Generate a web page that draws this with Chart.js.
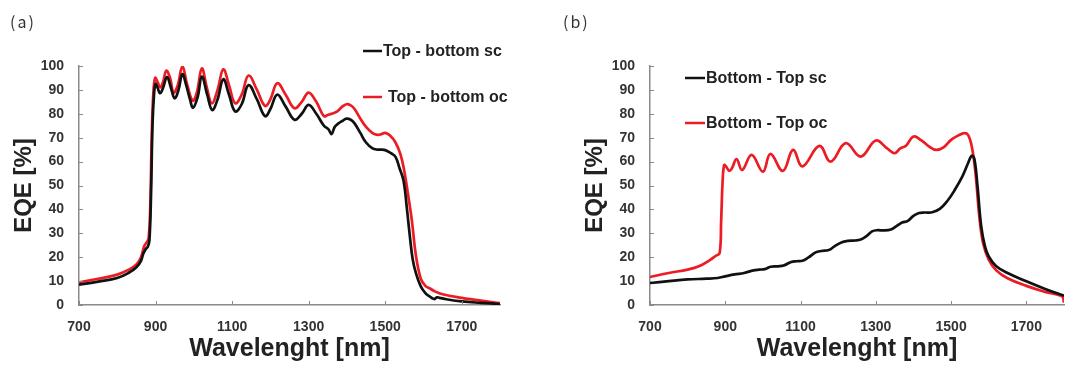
<!DOCTYPE html>
<html>
<head>
<meta charset="utf-8">
<script src="https://cdn.jsdelivr.net/npm/chart.js@4.4.1/dist/chart.umd.min.js"></script>
<style>
  html, body { margin: 0; padding: 0; background: #fff; }
  #wrap { position: relative; width: 1080px; height: 380px; overflow: hidden; }
  .panel { position: absolute; top: 0; width: 540px; height: 380px; }
  .tag { position: absolute; top: 9px; font: 16px "Noto Sans CJK SC", "DejaVu Sans", sans-serif; color: #333; letter-spacing: 2px; }
</style>
</head>
<body>
<div id="wrap">
  <div class="panel" style="left:0"><canvas id="eqe-a" width="540" height="380"></canvas></div>
  <div class="panel" style="left:540px"><canvas id="eqe-b" width="540" height="380"></canvas></div>
  <div class="tag" style="left:10px">(a)</div>
  <div class="tag" style="left:563px">(b)</div>
</div>
<script>
// Wavelength axis + tick labels
const X_TICKS = [700, 900, 1100, 1300, 1500, 1700];
const Y_TICKS = [0, 10, 20, 30, 40, 50, 60, 70, 80, 90, 100];

// (a) Top - bottom, short circuit
const A_SC_NM = [700, 750, 800, 830, 850, 862, 868, 875, 880, 884, 888, 892, 896, 900, 905, 912, 920, 930, 940, 950,
  960, 970, 980, 990, 998, 1010, 1021, 1035, 1048, 1062, 1077, 1092, 1108, 1125, 1143, 1165, 1186, 1200, 1218, 1240,
  1263, 1282, 1300, 1320, 1340, 1352, 1360, 1368, 1378, 1388, 1399, 1410, 1420, 1435, 1450, 1467, 1480, 1490, 1500, 1515,
  1527, 1538, 1548, 1557, 1565, 1572, 1580, 1593, 1605, 1616, 1628, 1635, 1642, 1660, 1700, 1750, 1800];
const A_SC_EQE = [8.5, 9.8, 11.3, 13.5, 15.8, 18.5, 21.5, 23.5, 24.5, 27, 45, 75, 88, 92.5, 91, 88.6, 91, 95.5, 91, 86.5,
  90, 96.6, 92, 86, 82.5, 87, 95.6, 88, 81.6, 86, 94.5, 88, 81, 84, 92, 86, 79, 82, 88, 83,
  77.5, 80, 83.7, 80, 75, 73.5, 71.5, 74.5, 76, 77, 78, 77.5, 76, 72, 68, 65.5, 65, 65, 64.8, 63.5,
  62, 57, 52, 40, 28, 19, 13.5, 7.8, 5, 3.6, 2.5, 3.2, 3, 2.4, 1.5, 0.9, 0.4];

// (a) Top - bottom, open circuit
const A_OC_NM = [700, 750, 800, 830, 850, 862, 870, 878, 882, 886, 890, 894, 899, 906, 912, 920, 928, 938, 947, 958,
  970, 983, 997, 1008, 1021, 1034, 1047, 1062, 1077, 1092, 1108, 1125, 1143, 1165, 1186, 1200, 1218, 1240, 1263, 1282,
  1300, 1320, 1340, 1350, 1360, 1375, 1388, 1399, 1410, 1420, 1435, 1450, 1467, 1480, 1490, 1500, 1512, 1527, 1540, 1550,
  1560, 1570, 1580, 1593, 1605, 1616, 1630, 1650, 1700, 1750, 1800];
const A_OC_EQE = [9.5, 11, 12.7, 14.8, 17, 20, 24.5, 26.5, 28, 40, 70, 88, 95, 93, 91, 93.5, 98, 95, 88.8, 92,
  99.7, 92, 85.5, 89, 99, 91, 84.4, 90, 98.6, 92, 84.4, 88, 96, 90, 83.3, 86, 92.8, 88, 82.3, 85,
  88.9, 85, 79, 79.5, 80, 81, 83, 84, 83.5, 82, 78, 74.5, 71.9, 71.2, 71.5, 72, 71, 68, 63, 56,
  46, 35, 21, 11, 8, 7, 5.7, 4.5, 3, 1.8, 0.8];

// (b) Bottom - Top, short circuit
const B_SC_NM = [700, 750, 800, 850, 880, 900, 925, 950, 975, 990, 1005, 1020, 1040, 1055, 1075, 1090, 1105, 1120, 1140, 1155,
  1175, 1190, 1210, 1225, 1245, 1260, 1275, 1290, 1305, 1320, 1340, 1355, 1370, 1385, 1400, 1415, 1430, 1450, 1470, 1490,
  1510, 1530, 1545, 1555, 1562, 1570, 1580, 1590, 1600, 1620, 1650, 1700, 1750, 1800];
const B_SC_EQE = [9.2, 10, 10.7, 11, 11.3, 12, 12.8, 13.4, 14.5, 14.8, 15, 16, 16.2, 16.5, 18, 18.3, 18.5, 19.8, 22, 22.6,
  23, 24.5, 26.3, 26.8, 27, 27.4, 28.8, 30.8, 31.3, 31.2, 31.6, 33, 34.5, 35.2, 37.3, 38.5, 38.7, 38.8, 40.2, 43.5,
  48.2, 53.8, 59.3, 62.5, 61, 50, 33, 24.5, 20.3, 16.2, 13.4, 9.9, 6.7, 3.9];

// (b) Bottom - Top, open circuit
const B_OC_NM = [700, 750, 800, 830, 860, 875, 885, 889, 893, 897, 902, 910, 917, 930, 945, 970, 1000, 1020, 1053, 1080,
  1105, 1150, 1180, 1220, 1260, 1300, 1330, 1350, 1365, 1380, 1400, 1420, 1440, 1460, 1480, 1500, 1520, 1535, 1545, 1555,
  1565, 1575, 1585, 1600, 1620, 1650, 1700, 1750, 1795, 1800];
const B_OC_EQE = [11.7, 13.4, 14.8, 16.2, 18.9, 20.6, 21.7, 35, 52, 58.6, 58, 56.2, 57, 61, 56.5, 62.8, 55.8, 63.2, 56.1, 64.9,
  58, 66.6, 60, 67.7, 62.1, 68.8, 65.5, 63.5, 65.5, 66.6, 70.5, 69, 66.5, 64.9, 66, 69.1, 71, 71.9, 71.2, 66.3,
  55, 37, 25.9, 19, 14.5, 11.2, 8, 5.5, 3.6, 1];

const BLACK = '#111111';
const RED = '#ec1c24';
const AXIS_GREY = '#8a8a8a';
const FONT = '"Liberation Sans", Arial, sans-serif';

function zip(xs, ys) {
  return xs.map((x, i) => ({ x, y: ys[i] }));
}

// small tick marks pointing into the plot, like the original
const innerTicks = {
  id: 'innerTicks',
  afterDraw(chart) {
    const { ctx, chartArea, scales } = chart;
    ctx.save();
    ctx.strokeStyle = AXIS_GREY;
    ctx.lineWidth = 1;
    X_TICKS.forEach(v => {
      const px = Math.round(scales.x.getPixelForValue(v)) + 0.5;
      ctx.beginPath();
      ctx.moveTo(px, chartArea.bottom);
      ctx.lineTo(px, chartArea.bottom - 4);
      ctx.stroke();
    });
    Y_TICKS.forEach(v => {
      const py = Math.round(scales.y.getPixelForValue(v)) + 0.5;
      ctx.beginPath();
      ctx.moveTo(chartArea.left, py);
      ctx.lineTo(chartArea.left + 4, py);
      ctx.stroke();
    });
    ctx.restore();
  }
};

// line + label legend placed by hand (top right in a, inside plot in b)
const lineLegend = {
  id: 'lineLegend',
  afterDraw(chart, args, opts) {
    const { ctx } = chart;
    ctx.save();
    ctx.font = 'bold 16px ' + FONT;
    ctx.textBaseline = 'middle';
    ctx.fillStyle = '#222';
    chart.data.datasets.forEach((ds, i) => {
      const y = opts.rows[i];
      ctx.strokeStyle = ds.borderColor;
      ctx.lineWidth = 2.5;
      ctx.beginPath();
      ctx.moveTo(opts.x, y);
      ctx.lineTo(opts.x + opts.lineW, y);
      ctx.stroke();
      ctx.fillText(ds.label, opts.x + opts.lineW + opts.gaps[i], y + 1);
    });
    ctx.restore();
  }
};

function makeChart(id, series, pad, legend) {
  return new Chart(document.getElementById(id), {
    type: 'line',
    data: {
      datasets: series.map(s => ({
        label: s.label,
        data: zip(s.nm, s.eqe),
        borderColor: s.color,
        borderWidth: 2.7,
        pointRadius: 0,
        fill: false,
        tension: 0.4
      }))
    },
    options: {
      responsive: false,
      animation: false,
      layout: { padding: pad },
      plugins: {
        legend: { display: false },
        tooltip: { enabled: false },
        lineLegend: legend
      },
      scales: {
        x: {
          type: 'linear',
          min: 700,
          max: 1800,
          afterBuildTicks: sc => { sc.ticks = X_TICKS.map(v => ({ value: v })); },
          afterFit: sc => { sc.height = 65; },
          grid: { drawOnChartArea: false, drawTicks: false },
          border: { color: AXIS_GREY, width: 1.5 },
          ticks: { padding: 14, color: '#333', font: { family: FONT, size: 14, weight: 'bold' }, maxRotation: 0,
                   callback: v => String(v) },
          title: { display: true, text: 'Wavelenght [nm]', color: '#222', padding: { top: 0, bottom: 6 },
                   font: { family: FONT, size: 25, weight: 'bold' } }
        },
        y: {
          min: 0,
          max: 100,
          afterBuildTicks: sc => { sc.ticks = Y_TICKS.map(v => ({ value: v })); },
          afterFit: sc => { sc.width = 79; },
          grid: { drawOnChartArea: false, drawTicks: false },
          border: { color: AXIS_GREY, width: 1.5 },
          ticks: { padding: 15, color: '#333', font: { family: FONT, size: 14, weight: 'bold' } },
          title: { display: true, text: 'EQE [%]', color: '#222', padding: { top: 10, bottom: 0 },
                   font: { family: FONT, size: 24, weight: 'bold' } }
        }
      }
    },
    plugins: [innerTicks, lineLegend]
  });
}

makeChart('eqe-a', [
  { label: 'Top - bottom sc', nm: A_SC_NM, eqe: A_SC_EQE, color: BLACK },
  { label: 'Top - bottom oc', nm: A_OC_NM, eqe: A_OC_EQE, color: RED }
], { left: 0, right: 40, top: 66, bottom: 10 },
   { x: 363, lineW: 19, rows: [51, 97], gaps: [1, 6] });

makeChart('eqe-b', [
  { label: 'Bottom - Top sc', nm: B_SC_NM, eqe: B_SC_EQE, color: BLACK },
  { label: 'Bottom - Top oc', nm: B_OC_NM, eqe: B_OC_EQE, color: RED }
], { left: 31, right: 16, top: 66, bottom: 10 },
   { x: 145, lineW: 20, rows: [78, 123], gaps: [1, 1] });
</script>
</body>
</html>
